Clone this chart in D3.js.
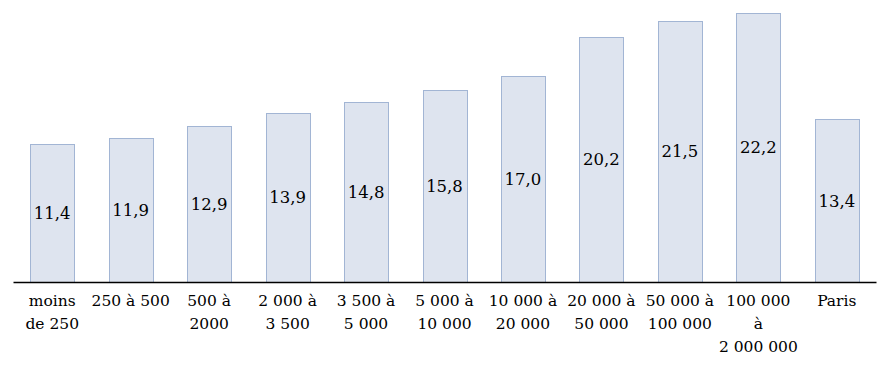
<!DOCTYPE html>
<html>
<head>
<meta charset="utf-8">
<script src="https://cdn.jsdelivr.net/npm/d3@7"></script>
<style>
  body { margin: 0; background: #fff; }
</style>
</head>
<body>
<div id="chart"></div>
<script>
var svgWidth = 888;
var svgHeight = 367;

// categories (each entry = lines of the label)
var categories = [
  ["moins", "de 250"],
  ["250 à 500"],
  ["500 à", "2000"],
  ["2 000 à", "3 500"],
  ["3 500 à", "5 000"],
  ["5 000 à", "10 000"],
  ["10 000 à", "20 000"],
  ["20 000 à", "50 000"],
  ["50 000 à", "100 000"],
  ["100 000", "à", "2 000 000"],
  ["Paris"]
];
var values = [11.4, 11.9, 12.9, 13.9, 14.8, 15.8, 17.0, 20.2, 21.5, 22.2, 13.4];

var data = values.map(function(v, i) { return { idx: i, value: v, label: categories[i] }; });

var fontFam = "'DejaVu Serif', serif";

var svg = d3.select("#chart")
  .append("svg")
  .attr("width", svgWidth)
  .attr("height", svgHeight)
  .attr("font-family", fontFam);

var baseline = 282;

var xScale = d3.scaleBand()
  .domain(d3.range(values.length))
  .range([13, 876])
  .paddingInner(0.44)
  .paddingOuter(0.22);

var yScale = d3.scaleLinear()
  .domain([0, 23])
  .range([baseline, baseline - 23 * 12.13]);

var fmt = function(v) { return d3.format(".1f")(v).replace(".", ","); };

// bars
svg.append("g")
  .selectAll("rect")
  .data(data)
  .enter()
  .append("rect")
  .attr("x", d => Math.round(xScale(d.idx)) + 0.5)
  .attr("y", d => Math.round(yScale(d.value)) + 0.5)
  .attr("width", Math.round(xScale.bandwidth()))
  .attr("height", d => baseline - Math.round(yScale(d.value)))
  .attr("fill", "#dee4ef")
  .attr("stroke", "#a2b5d4")
  .attr("stroke-width", 1);

// value labels, centred in bar
svg.append("g")
  .selectAll("text")
  .data(data)
  .enter()
  .append("text")
  .attr("x", d => xScale(d.idx) + xScale.bandwidth() / 2)
  .attr("y", d => (yScale(d.value) + baseline) / 2)
  .attr("dy", "0.35em")
  .attr("text-anchor", "middle")
  .attr("font-family", fontFam)
  .attr("font-size", 16.5)
  .attr("fill", "#000")
  .text(d => fmt(d.value));

// axis line, no ticks
var xAxis = d3.axisBottom(xScale).tickSize(0).tickFormat("");
var axisG = svg.append("g")
  .attr("transform", `translate(0, ${baseline})`)
  .call(xAxis);
axisG.select(".domain").attr("stroke", "#000").attr("stroke-width", 1.3);

// category labels
var catG = svg.append("g")
  .selectAll("text")
  .data(data)
  .enter()
  .append("text")
  .attr("text-anchor", "middle")
  .attr("font-family", fontFam)
  .attr("font-size", 15.5)
  .attr("fill", "#000")
  .attr("transform", d => `translate(${xScale(d.idx) + xScale.bandwidth() / 2}, 306)`);

catG.selectAll("tspan")
  .data(d => d.label)
  .enter()
  .append("tspan")
  .attr("x", 0)
  .attr("y", (d, i) => i * 23)
  .text(d => d);
</script>
</body>
</html>
